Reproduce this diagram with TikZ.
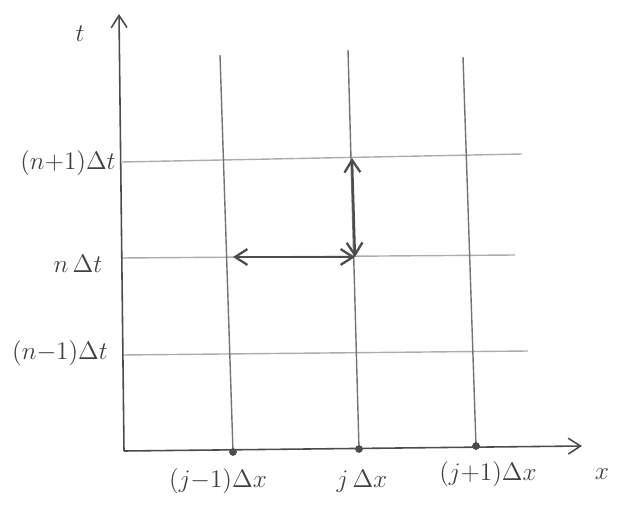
\documentclass[tikz,border=0pt]{standalone}
\usepackage{amsmath}
\usetikzlibrary{arrows.meta}

\begin{document}
\begin{tikzpicture}[x=0.2mm,y=-0.2mm,>={Straight Barb[length=7pt,width=9pt]},
  gridln/.style={gray!65,line width=0.8pt},
  axisln/.style={black!70,line width=0.9pt},
  stencil/.style={<->,black!70,line width=1.3pt},
  lbl/.style={font=\fontsize{14}{17}\selectfont,text=black!75}]
  \useasboundingbox (0,0) rectangle (617,512);
  % picture in pixel units, y downwards
  % origin O at (124,451)
  \coordinate (O) at (124,451);
  \coordinate (ttop) at (119,14);
  \coordinate (xend) at (582,446);

  % horizontal grid lines: t = (n-1), n, (n+1)
  \foreach \yl/\yr/\xr in {162/154/522, 258/255/515, 355/351/528}{
    \draw[gridln](122,\yl)--(\xr,\yr);}

  % vertical grid lines: x = (j-1), j, (j+1)
  \foreach \xt/\yt/\xb/\yb in {220/55/233/452, 348/50/359/449, 463/57/476/446}{
    \draw[gridln,black!55](\xt,\yt)--(\xb,\yb);
    \fill[black!70](\xb,\yb) circle (2.2pt);}

  % axes
  \draw[axisln,->](O)--(ttop);
  \draw[axisln,->](O)--(xend);
  \node[lbl] (tlab) at (80,34){$t$};
  \node[lbl] (xlab) at (602,474){$x$};

  % stencil points
  \coordinate (P) at (355,257);   % (j, n)
  \coordinate (W) at (233,257);   % (j-1, n)
  \coordinate (N) at (352,158);   % (j, n+1)
  \draw[stencil](W)--(P);
  \draw[stencil](P)--(N);

  % t labels
  \node[lbl] (tnp) at (68,163){$(n{+}1)\Delta t$};
  \node[lbl] (tn)  at (78,264){$n\,\Delta t$};
  \node[lbl] (tnm) at (60,353){$(n{-}1)\Delta t$};

  % x labels
  \node[lbl] (xjm) at (218,481){$(j{-}1)\Delta x$};
  \node[lbl] (xj)  at (362,481){$j\,\Delta x$};
  \node[lbl] (xjp) at (488,474){$(j{+}1)\Delta x$};
\end{tikzpicture}
\end{document}
